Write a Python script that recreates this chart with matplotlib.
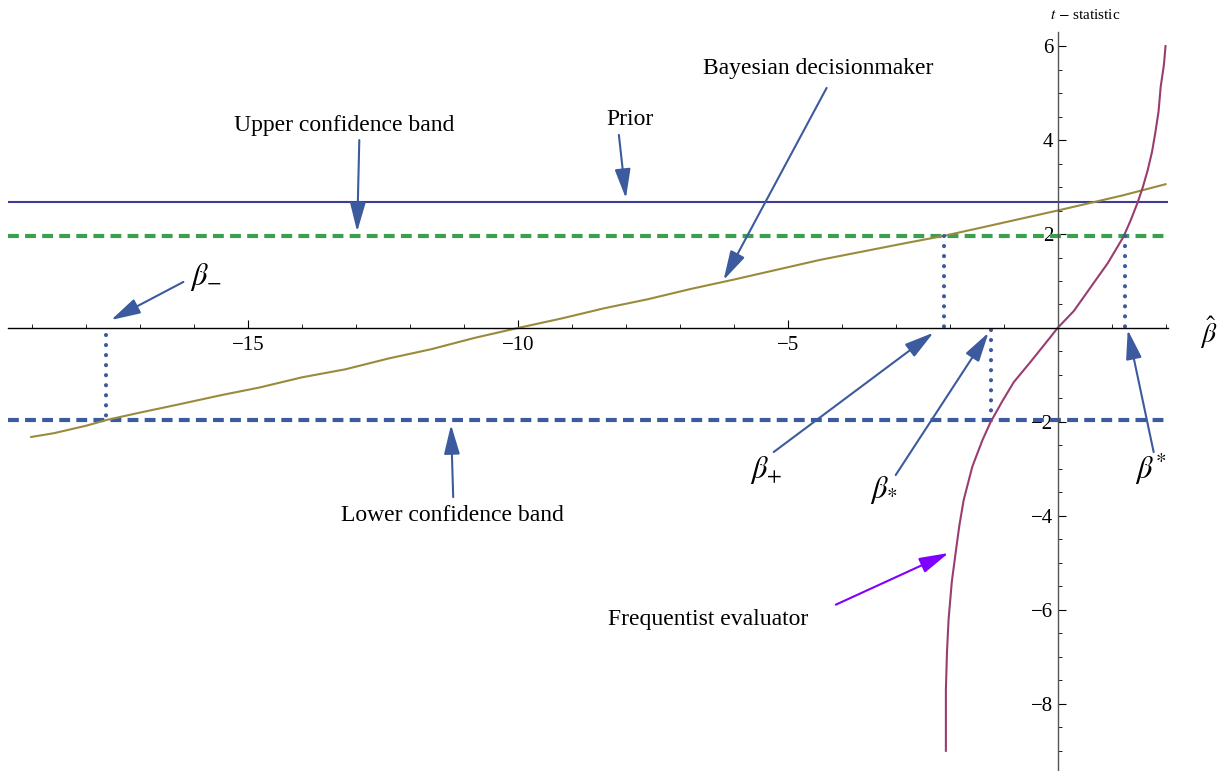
import numpy as np
import matplotlib
matplotlib.use("Agg")
import matplotlib.pyplot as plt
from matplotlib.ticker import MultipleLocator, FixedLocator

plt.rcParams["font.family"] = ["Liberation Serif", "DejaVu Serif"]
plt.rcParams["mathtext.fontset"] = "stix"

# Horizontal reference levels (t-statistic)
prior_level = 2.68
upper_band = 1.96
lower_band = -1.96

# Bayesian decisionmaker curve
bayes_x = [-19.02, -18.6, -18.0, -17.63, -17.0, -16.3, -15.5, -14.8, -14.0, -13.2,
           -12.4, -11.6, -10.8, -10.0, -9.2, -8.4, -7.6, -6.8, -6.0, -5.2,
           -4.4, -3.6, -2.8, -2.11, -1.4, -0.7, 0.0, 0.6, 1.2, 1.7, 2.0]
bayes_y = [-2.32, -2.24, -2.08, -1.96, -1.80, -1.63, -1.43, -1.27, -1.05, -0.88,
           -0.65, -0.45, -0.21, 0.0, 0.20, 0.42, 0.61, 0.83, 1.03, 1.24,
           1.45, 1.63, 1.81, 1.96, 2.14, 2.32, 2.50, 2.66, 2.82, 2.97, 3.06]

# Frequentist evaluator curve
freq_x = [-2.07, -2.07, -2.05, -2.02, -1.96, -1.89, -1.82, -1.74, -1.58, -1.39,
          -1.24, -1.02, -0.81, -0.5, -0.13, 0.0, 0.3, 0.67, 0.93, 1.22,
          1.35, 1.48, 1.58, 1.67, 1.75, 1.81, 1.87, 1.91, 1.97, 2.0]
freq_y = [-9.0, -7.7, -6.9, -6.2, -5.4, -4.79, -4.2, -3.66, -2.95, -2.38,
          -2.0, -1.55, -1.15, -0.72, -0.19, 0.0, 0.36, 0.96, 1.38, 1.94,
          2.28, 2.66, 3.0, 3.36, 3.75, 4.15, 4.6, 5.13, 5.6, 6.0]

# Crossing points (dotted drop lines)
beta_minus = -17.63
beta_plus = -2.11
beta_sub_star = -1.24
beta_sup_star = 1.24

xticks_major = [-15, -10, -5]
yticks_major = [-8, -6, -4, -2, 2, 4, 6]

navy = "#3d3d99"
olive = "#998b3d"
maroon = "#993d71"
green = "#3c9f4f"
blue = "#3c5a9e"
violet = "#8000ff"

fig = plt.figure(figsize=(12.31, 7.71), dpi=100)
ax = fig.add_axes([0.0065, 0.0, 0.9425, 0.9585])
ax.set_xlim(-19.45, 2.05)
ax.set_ylim(-9.43, 6.3)

xl = ax.get_xlim()
ax.plot(xl, [prior_level] * 2, color=navy, lw=1.5)
ax.plot(xl, [upper_band] * 2, color=green, lw=3, dashes=(2.6, 1.5))
ax.plot(xl, [lower_band] * 2, color=blue, lw=3, dashes=(2.6, 1.5))

ax.plot(bayes_x, bayes_y, color=olive, lw=1.5)
ax.plot(freq_x, freq_y, color=maroon, lw=1.5)

dot = dict(color=blue, lw=3, dashes=(0.01, 2.4), dash_capstyle="round")
ax.plot([beta_minus] * 2, [-0.15, lower_band], **dot)
ax.plot([beta_plus] * 2, [upper_band, 0.0], **dot)
ax.plot([beta_sub_star] * 2, [-0.05, lower_band], **dot)
ax.plot([beta_sup_star] * 2, [upper_band, 0.0], **dot)

# axes through origin
for s in ["top", "right"]:
    ax.spines[s].set_visible(False)
ax.spines["left"].set_position(("data", 0))
ax.spines["bottom"].set_position(("data", 0))
ax.spines["left"].set_color("#555555")
ax.spines["bottom"].set_linewidth(1.0)
ax.spines["left"].set_linewidth(1.0)

ax.xaxis.set_major_locator(FixedLocator(xticks_major))
ax.xaxis.set_minor_locator(MultipleLocator(1))
ax.yaxis.set_major_locator(FixedLocator(yticks_major))
ax.yaxis.set_minor_locator(MultipleLocator(0.5))
ax.tick_params(which="major", direction="in", length=6, width=0.8, labelsize=15)
ax.tick_params(which="minor", direction="in", length=3, width=0.6)
ax.tick_params(axis="x", pad=6)
ax.tick_params(axis="y", pad=3)

ax.text(2.8, -0.09, r"$\hat{\beta}$", fontsize=20, ha="center", va="center", clip_on=False)
ax.text(0.52, 6.66, r"$t$ $-$ statistic", fontsize=11, ha="center", va="center", clip_on=False)

# annotations: (text, text xy, arrow start, arrow end, color, fontsize)
notes = [
    ("Upper confidence band", (-13.22, 4.32), (-12.94, 4.0), (-12.98, 2.05), blue, 17),
    ("Prior", (-7.93, 4.43), (-8.13, 4.11), (-8.0, 2.76), blue, 17),
    ("Bayesian decisionmaker", (-4.44, 5.53), (-4.28, 5.11), (-6.19, 1.02), blue, 17),
    (r"$\beta_{-}$", (-15.78, 1.09), (-16.2, 0.98), (-17.54, 0.17), blue, 22),
    ("Lower confidence band", (-11.22, -4.0), (-11.2, -3.6), (-11.24, -2.06), blue, 17),
    (r"$\beta_{+}$", (-5.41, -3.02), (-5.26, -2.64), (-2.30, -0.1), blue, 22),
    (r"$\beta_{*}$", (-3.22, -3.45), (-3.0, -3.13), (-1.28, -0.1), blue, 22),
    (r"$\beta^{*}$", (1.72, -3.02), (1.78, -2.64), (1.30, -0.04), blue, 22),
    ("Frequentist evaluator", (-6.48, -6.21), (-4.11, -5.89), (-2.02, -4.79), violet, 17),
]
for label, txy, start, end, col, fs in notes:
    ax.text(txy[0], txy[1], label, fontsize=fs, ha="center", va="center")
    ax.annotate("", xy=end, xytext=start,
                arrowprops=dict(arrowstyle="-|>,head_length=1.0,head_width=0.27",
                                mutation_scale=18, color=col, lw=1.5,
                                shrinkA=0, shrinkB=0))

fig.savefig("out.png", dpi=100)
